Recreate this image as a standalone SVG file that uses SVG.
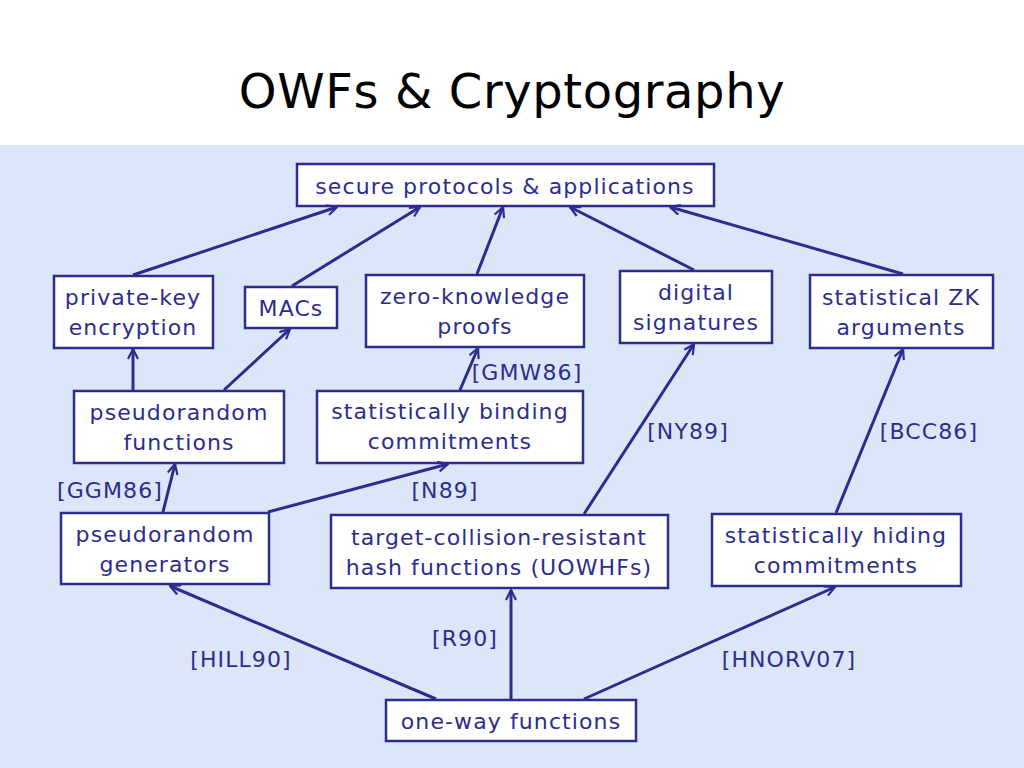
<svg xmlns="http://www.w3.org/2000/svg" width="1024" height="768" viewBox="0 0 1024 768">
<defs><marker id="a" viewBox="0 0 12 12" refX="11" refY="6" markerWidth="12" markerHeight="12" markerUnits="userSpaceOnUse" orient="auto"><path d="M1,1 L11,6 L1,11" fill="none" stroke="#2b2d8e" stroke-width="2.2"/></marker></defs>
<style>
.b{fill:#fff;stroke:#2b2d8e;stroke-width:2.5}
text{font-family:"DejaVu Sans",Verdana,sans-serif;font-size:22px;letter-spacing:1.1px;fill:#2b2d8e;text-anchor:middle}
.c line{stroke:#2b2d8e;stroke-width:3;marker-end:url(#a)}
</style>
<rect width="1024" height="768" fill="#fff"/>
<rect y="145" width="1024" height="623" fill="#dde6f8"/>
<text x="512" y="108" style="font-size:48px;letter-spacing:0.6px;fill:#000">OWFs &amp; Cryptography</text>
<g id="n1"><rect class="b" x="297" y="164" width="417" height="42"/><text x="505" y="194">secure protocols &amp; applications</text></g>
<g id="n2"><rect class="b" x="54" y="276" width="159" height="72"/><text x="133" y="305">private-key</text><text x="133" y="335">encryption</text></g>
<g id="n3"><rect class="b" x="245" y="287" width="92" height="41"/><text x="291" y="316">MACs</text></g>
<g id="n4"><rect class="b" x="366" y="275" width="218" height="72"/><text x="475" y="304">zero-knowledge</text><text x="475" y="334">proofs</text></g>
<g id="n5"><rect class="b" x="620" y="271" width="152" height="72"/><text x="696" y="300">digital</text><text x="696" y="330">signatures</text></g>
<g id="n6"><rect class="b" x="810" y="275" width="183" height="73"/><text x="901" y="305">statistical ZK</text><text x="901" y="335">arguments</text></g>
<g id="n7"><rect class="b" x="74" y="391" width="210" height="72"/><text x="179" y="420">pseudorandom</text><text x="179" y="450">functions</text></g>
<g id="n8"><rect class="b" x="317" y="391" width="266" height="72"/><text x="450" y="419">statistically binding</text><text x="450" y="449">commitments</text></g>
<g id="n9"><rect class="b" x="61" y="513" width="208" height="71"/><text x="165" y="542">pseudorandom</text><text x="165" y="572">generators</text></g>
<g id="n10"><rect class="b" x="331" y="515" width="337" height="73"/><text x="499" y="545">target-collision-resistant</text><text x="499" y="575">hash functions (UOWHFs)</text></g>
<g id="n11"><rect class="b" x="712" y="514" width="249" height="72"/><text x="836" y="543">statistically hiding</text><text x="836" y="573">commitments</text></g>
<g id="n12"><rect class="b" x="386" y="700" width="250" height="41"/><text x="511" y="729">one-way functions</text></g>
<g class="c">
<line x1="133" y1="275" x2="337" y2="207"/>
<line x1="292" y1="286" x2="420" y2="207"/>
<line x1="477" y1="274" x2="503" y2="207"/>
<line x1="694" y1="270" x2="570" y2="207"/>
<line x1="903" y1="274" x2="670" y2="207"/>
<line x1="133" y1="390" x2="133" y2="349"/>
<line x1="224" y1="390" x2="290" y2="329"/>
<line x1="460" y1="390" x2="478" y2="348"/>
<line x1="163" y1="512" x2="175" y2="464"/>
<line x1="268" y1="512" x2="448" y2="464"/>
<line x1="584" y1="514" x2="694" y2="344"/>
<line x1="836" y1="513" x2="903" y2="349"/>
<line x1="436" y1="699" x2="170" y2="586"/>
<line x1="511" y1="699" x2="511" y2="590"/>
<line x1="584" y1="699" x2="835" y2="587"/>
</g>
<text x="527" y="380">[GMW86]</text>
<text x="688" y="439">[NY89]</text>
<text x="929" y="439">[BCC86]</text>
<text x="110" y="498">[GGM86]</text>
<text x="445" y="498">[N89]</text>
<text x="465" y="646">[R90]</text>
<text x="241" y="667">[HILL90]</text>
<text x="789" y="667">[HNORV07]</text>
</svg>
